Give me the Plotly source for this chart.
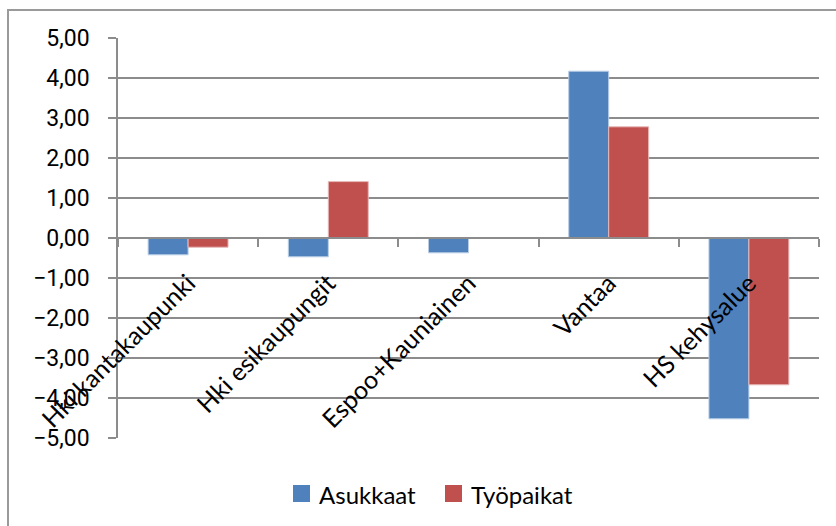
import plotly.graph_objects as go

# Alueet ja muutosprosentit
alueet = ["Hki kantakaupunki", "Hki esikaupungit", "Espoo+Kauniainen", "Vantaa", "HS kehysalue"]
asukkaat = [-0.42, -0.47, -0.37, 4.17, -4.52]
tyopaikat = [-0.23, 1.41, -0.01, 2.78, -3.67]
y_ticks = [-5, -4, -3, -2, -1, 0, 1, 2, 3, 4, 5]

sarjat = ["Asukkaat", "Työpaikat"]
varit = ["#4F81BD", "#C0504D"]
reunat = ["#b9cde5", "#e6b9b8"]

W, H = 836, 526
L, R, T, B = 118, 17, 38, 88
pw, ph = W - L - R, H - T - B

grid = "#8c8c8c"


def px_x(p):
    return (p - L) / pw


def px_y(p):
    return (H - B - p) / ph


fig = go.Figure()
for nimi, arvot, vari, reuna in zip(sarjat, [asukkaat, tyopaikat], varit, reunat):
    fig.add_trace(go.Bar(
        name=nimi, x=alueet, y=arvot, showlegend=False,
        marker=dict(color=vari, line=dict(color=reuna, width=1)),
    ))

# outer chart frame
fig.add_shape(type="rect", xref="paper", yref="paper",
              x0=px_x(8), x1=px_x(850), y0=px_y(10), y1=px_y(540),
              line=dict(color="#9a9a9a", width=2), fillcolor="rgba(0,0,0,0)",
              layer="below")

# legend at the bottom: colour keys and series names
avain_x = [293, 445]
for nimi, vari, x0 in zip(sarjat, varit, avain_x):
    fig.add_shape(type="rect", xref="paper", yref="paper",
                  x0=px_x(x0), x1=px_x(x0 + 17), y0=px_y(485), y1=px_y(502),
                  line=dict(width=0), fillcolor=vari)
    fig.add_annotation(xref="paper", yref="paper", x=px_x(x0 + 24), y=px_y(494),
                       xanchor="left", yanchor="middle", showarrow=False,
                       text=nimi, font=dict(family="Lato", size=24, color="#000000"))

fig.update_layout(
    width=W, height=H,
    margin=dict(l=L, r=R, t=T, b=B),
    paper_bgcolor="white", plot_bgcolor="white",
    separators=", ",
    barmode="group", bargap=0.43, bargroupgap=0,
    showlegend=False,
    xaxis=dict(
        anchor="free", position=0.5,
        showline=True, linecolor=grid, linewidth=1.5,
        ticks="outside", ticklen=8, tickcolor=grid, tickwidth=1.5,
        tickson="boundaries", tickangle=-45, showgrid=False,
        ticklabelstandoff=20,
        tickfont=dict(family="Lato", size=25, color="#000000"),
    ),
    yaxis=dict(
        range=[-5, 5], tickvals=y_ticks, tickformat=".2f",
        showline=True, linecolor=grid, linewidth=1.5,
        ticks="outside", ticklen=8, tickcolor=grid, tickwidth=1.5,
        showgrid=True, gridcolor=grid, gridwidth=1.5,
        zeroline=False, ticklabelstandoff=14,
        tickfont=dict(family="Roboto", size=23, color="#000000"),
    ),
)

fig.write_html("out.html")
